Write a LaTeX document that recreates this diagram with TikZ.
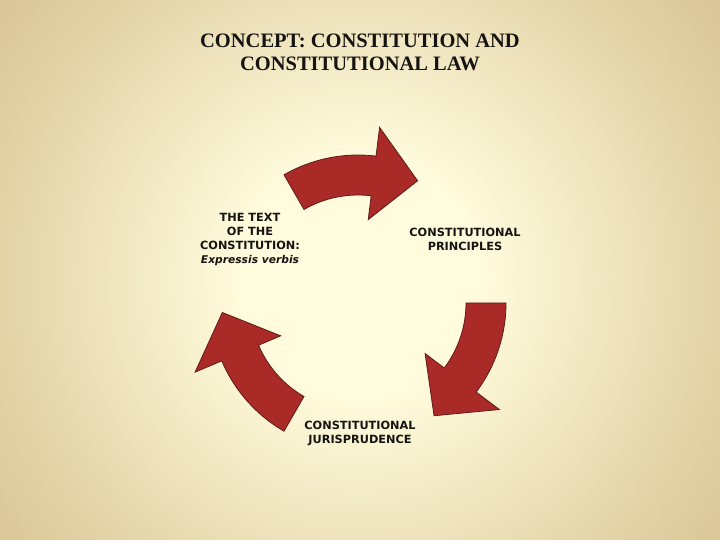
\documentclass[tikz,border=0pt]{standalone}
\usepackage{fontspec}
\setmainfont{Liberation Serif}
\newfontfamily\bodyfont{DejaVu Sans}
\usetikzlibrary{calc}
\definecolor{bgin}{RGB}{255,251,220}
\definecolor{bgmid}{RGB}{224,208,163}
\definecolor{bgmidb}{RGB}{205,184,136}
\definecolor{bgout}{RGB}{195,168,116}
\definecolor{arrowred}{RGB}{170,42,40}
\definecolor{arrowedge}{RGB}{95,28,24}
\definecolor{textdark}{RGB}{22,20,18}
\pgfdeclareradialshading{bgshade}{\pgfpoint{0bp}{0bp}}{color(0bp)=(bgin); color(6bp)=(bgin); color(19bp)=(bgmid); color(28bp)=(bgmidb); color(40bp)=(bgout); color(50bp)=(bgout)}
\newcommand\cyclearrow[1]{%
  \draw[arrowshape] ($(C)+(#1+30:148)$) arc[start angle=#1+30, end angle=#1-7, radius=148]
    -- ($(C)+(#1-7:177)$) -- ($(C)+(#1-26:136)$) -- ($(C)+(#1-7:84)$)
    -- ($(C)+(#1-7:108)$) arc[start angle=#1-7, end angle=#1+30, radius=108] -- cycle;}
\begin{document}
\begin{tikzpicture}[x=1pt,y=1pt,
  arrowshape/.style={fill=arrowred, draw=arrowedge, line width=0.8pt, line join=miter},
  body/.style={font=\bodyfont\bfseries\fontsize{11.3}{14}\selectfont, text=textdark, align=center, inner sep=0pt},
  titletext/.style={font=\bfseries\fontsize{20.5}{23}\selectfont, text=textdark, align=center, inner sep=0pt}]
\useasboundingbox (0,0) rectangle (720,540);
\begin{scope}
  \clip (0,0) rectangle (720,540);
  \shade[shading=bgshade] (360,262) circle[radius=500];
\end{scope}
\coordinate (C) at (358,237);
\cyclearrow{90}
\cyclearrow{-30}
\cyclearrow{210}
\node[titletext] (title) at (360,488) {CONCEPT: CONSTITUTION AND\\CONSTITUTIONAL LAW};
\node[body] (text) at (250,300.6) {THE TEXT\\OF THE\\CONSTITUTION:\\{\fontsize{10.7}{14}\selectfont\itshape Expressis verbis}};
\node[body] (principles) at (465,300.8) {CONSTITUTIONAL\\PRINCIPLES};
\node[body] (juris) at (360,107) {CONSTITUTIONAL\\JURISPRUDENCE};
\end{tikzpicture}
\end{document}
